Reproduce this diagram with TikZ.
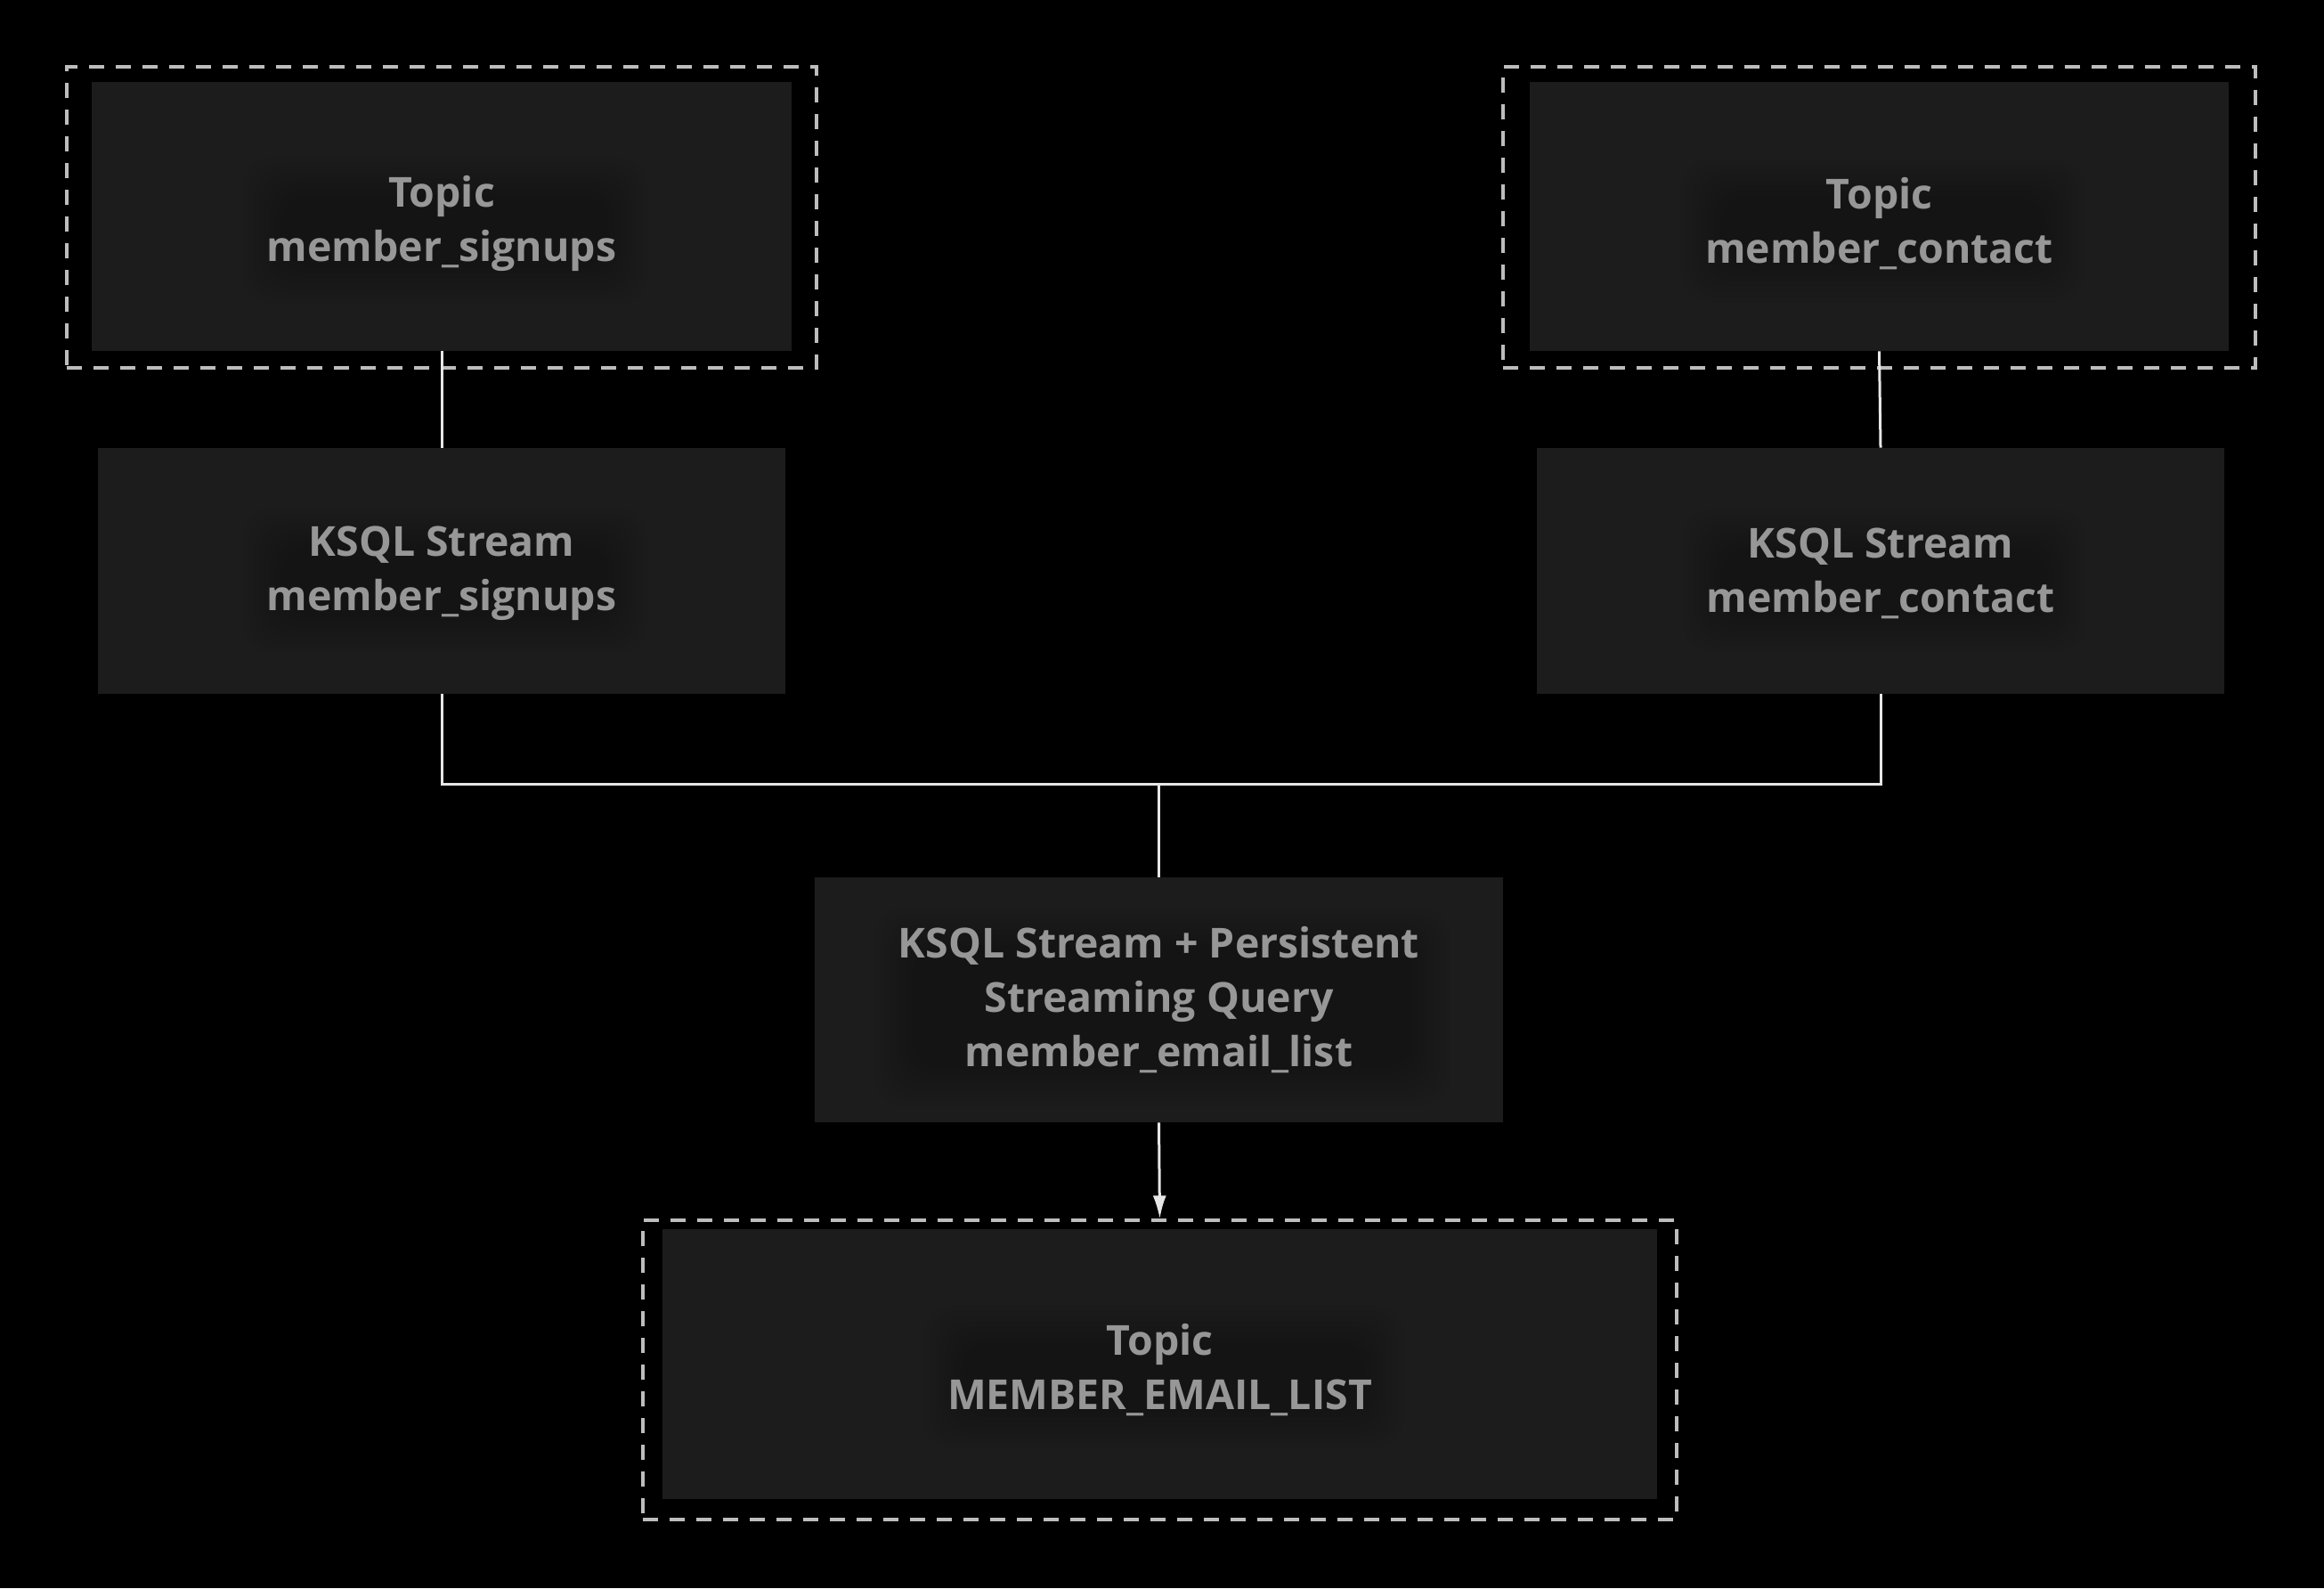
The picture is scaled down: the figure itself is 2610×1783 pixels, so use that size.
\documentclass[tikz,border=0pt]{standalone}
\usepackage{fontspec}
\setmainfont{Open Sans}
\usetikzlibrary{arrows.meta}
\definecolor{boxfill}{HTML}{1C1C1C}
\definecolor{txtc}{HTML}{979797}
\definecolor{dashc}{HTML}{BDBDBD}
\definecolor{linec}{HTML}{E6E6E6}
\pgfdeclarelayer{boxlayer}
\pgfdeclarelayer{shadowlayer}
\pgfsetlayers{boxlayer,shadowlayer,main}
\newcommand{\softshadow}[1]{%
  \begin{pgfonlayer}{shadowlayer}
  \foreach \r in {-6,-3,0,3,6,9,12,15}{
    \fill[black, opacity=0.03, rounded corners=16pt]
      ([xshift=-\r pt+2pt, yshift=-\r pt-3pt]#1.south west) rectangle
      ([xshift=\r pt+2pt, yshift=\r pt-5pt]#1.north east);
  }
  \end{pgfonlayer}}
\begin{document}
\begin{tikzpicture}[x=0.5pt,y=-0.5pt,
  box/.style={rectangle, fill=boxfill, draw=none, inner sep=0pt},
  lbl/.style={align=center, text=txtc, font=\bfseries\fontsize{23.2}{30.5}\selectfont, inner sep=0pt},
  dbox/.style={rectangle, draw=dashc, line width=1.6pt, dash pattern=on 8.5pt off 6.5pt, inner sep=0pt},
  conn/.style={draw=linec, line width=1.5pt}
]
\begin{pgfonlayer}{boxlayer}
\fill[black] (0,0) rectangle (2610,1783);
\end{pgfonlayer}
\useasboundingbox (0,0) rectangle (2610,1783);

% dashed frames
\node[dbox, minimum width=421pt, minimum height=169pt] (d1) at (496,244) {};
\node[dbox, minimum width=422.5pt, minimum height=169pt] (d2) at (2110.5,244) {};
\node[dbox, minimum width=580.5pt, minimum height=168pt] (d3) at (1302.5,1538) {};

% boxes
\begin{pgfonlayer}{boxlayer}
\node[box, minimum width=393pt, minimum height=151pt] (t1) at (496,243) {};
\node[box, minimum width=392.5pt, minimum height=151pt] (t2) at (2110.5,243) {};
\node[box, minimum width=386pt, minimum height=138pt] (k1) at (496,641) {};
\node[box, minimum width=386pt, minimum height=138pt] (k2) at (2112,641) {};
\node[box, minimum width=386.5pt, minimum height=137.5pt] (m) at (1301.5,1122.5) {};
\node[box, minimum width=558.5pt, minimum height=151.5pt] (b) at (1302.5,1531.5) {};
\end{pgfonlayer}

% labels
\node[lbl] (t1l) at ([yshift=-4pt]t1.center) {Topic\\member\_signups};
\node[lbl] (t2l) at ([yshift=-4pt]t2.center) {Topic\\member\_contact};
\node[lbl] (k1l) at ([yshift=-1.5pt]k1.center) {KSQL Stream\\member\_signups};
\node[lbl] (k2l) at ([yshift=-1.5pt]k2.center) {KSQL Stream\\member\_contact};
\node[lbl] (ml) at ([yshift=0pt]m.center) {KSQL Stream + Persistent\\Streaming Query\\member\_email\_list};
\node[lbl] (bl) at ([yshift=-3.3pt]b.center) {Topic\\MEMBER\_EMAIL\_LIST};
\softshadow{t1l}\softshadow{t2l}\softshadow{k1l}\softshadow{k2l}\softshadow{ml}\softshadow{bl}

\coordinate (j) at (1301.5,880);

\draw[conn] (t1.south) -- (k1.north);
\draw[conn] (t2.south) -- (k2.north);
\draw[conn] (k1.south) |- (j) -| (k2.south);
\draw[conn] (j) -- (m.north);
\draw[conn, -{Latex[length=13pt,width=7.5pt]}] (m.south) -- (d3.north);
\end{tikzpicture}
\end{document}
